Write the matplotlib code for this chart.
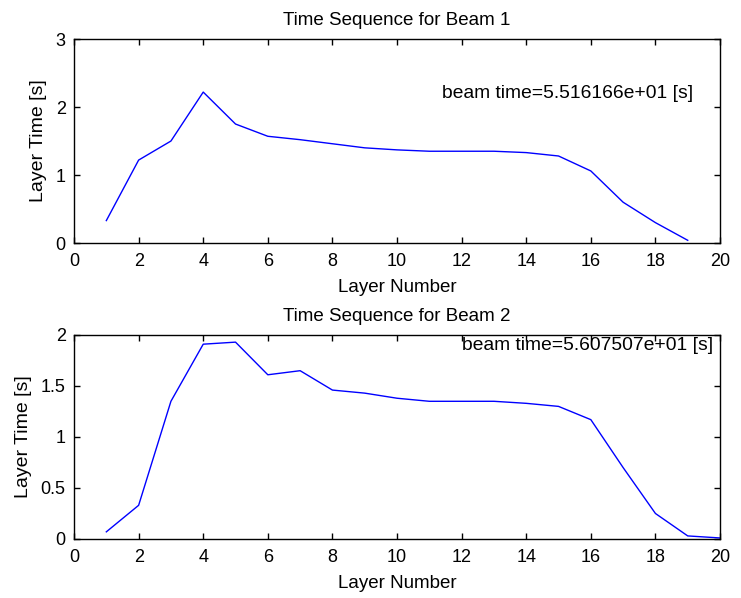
import matplotlib
matplotlib.use('Agg')
import matplotlib.pyplot as plt

# layer times for each beam
beam1_layers = list(range(1, 20))
beam1_times = [0.33, 1.22, 1.50, 2.22, 1.75, 1.57, 1.52, 1.46, 1.40, 1.37,
               1.35, 1.35, 1.35, 1.33, 1.28, 1.06, 0.60, 0.30, 0.04]
beam1_total = 5.516166e+01

beam2_layers = list(range(1, 21))
beam2_times = [0.07, 0.33, 1.35, 1.91, 1.93, 1.61, 1.65, 1.46, 1.43, 1.38,
               1.35, 1.35, 1.35, 1.33, 1.30, 1.17, 0.70, 0.25, 0.03, 0.01]
beam2_total = 5.607507e+01

plt.rcParams['font.family'] = ['Liberation Sans', 'DejaVu Sans']
plt.rcParams['font.size'] = 13

fig = plt.figure(figsize=(7.41, 5.98), dpi=100)
ax1 = fig.add_axes([0.0999, 0.5936, 0.8718, 0.3411])
ax2 = fig.add_axes([0.0999, 0.0987, 0.8718, 0.3411])


def style_axes(ax, ymax, yticks):
    ax.set_xlim(0, 20)
    ax.set_ylim(0, ymax)
    ax.set_xticks(range(0, 21, 2))
    ax.set_yticks(yticks)
    ax.set_yticklabels([f'{t:g}' for t in yticks])
    ax.tick_params(direction='in', length=4, width=1, top=True, right=True,
                   labelsize=13)
    ax.tick_params(axis='x', pad=7)
    ax.tick_params(axis='y', pad=6)
    for sp in ax.spines.values():
        sp.set_linewidth(1)
    ax.set_xlabel('Layer Number', fontsize=13.5, labelpad=7)
    ax.set_ylabel('Layer Time [s]', fontsize=14, labelpad=6)


ax1.plot(beam1_layers, beam1_times, color='#0000ff', lw=1.0)
style_axes(ax1, 3, [0, 1, 2, 3])
ax1.set_title('Time Sequence for Beam 1', fontsize=13.5, pad=10)
ax1.text(11.39, 2.2, f'beam time={beam1_total:e} [s]', fontsize=13.9,
         va='center', ha='left')

ax2.plot(beam2_layers, beam2_times, color='#0000ff', lw=1.0)
style_axes(ax2, 2, [0, 0.5, 1, 1.5, 2])
ax2.set_title('Time Sequence for Beam 2', fontsize=13.5, pad=10)
ax2.text(12.0, 1.9, f'beam time={beam2_total:e} [s]', fontsize=13.9,
         va='center', ha='left')

fig.savefig('out.png', dpi=100)
